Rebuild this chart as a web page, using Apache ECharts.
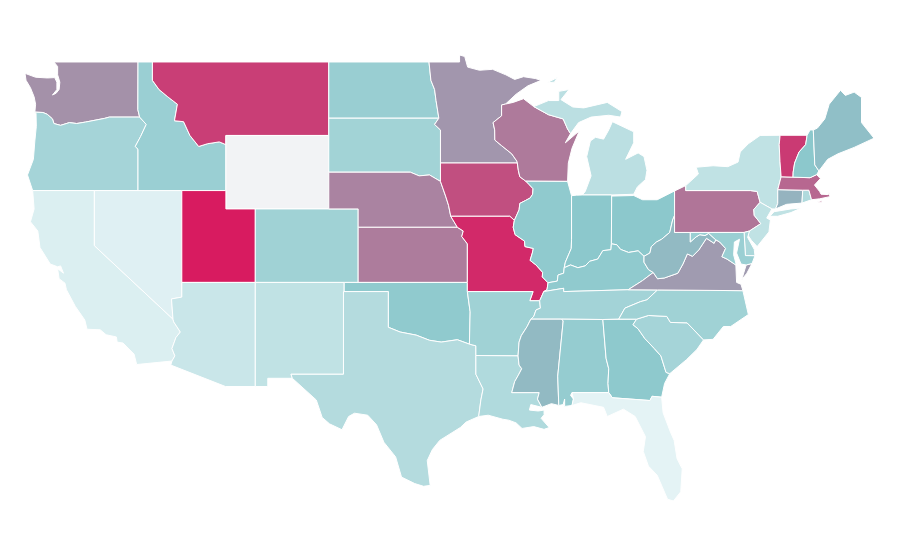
<!DOCTYPE html>
<html>
<head>
<meta charset="utf-8">
<style>html,body{margin:0;background:#fff}#box{width:900px;height:560px}</style>
<script src="https://cdn.jsdelivr.net/npm/echarts@6/dist/echarts.min.js"></script>
</head>
<body>
<div id="box"></div>
<script>
// values, Wyoming has none
var states = ["Washington","Oregon","California","Nevada","Idaho","Montana","Utah","Arizona","Colorado","New Mexico","North Dakota","South Dakota","Nebraska","Kansas","Oklahoma","Texas","Minnesota","Iowa","Missouri","Arkansas","Louisiana","Wisconsin","Illinois","Michigan","Indiana","Ohio","Kentucky","Tennessee","Mississippi","Alabama","Georgia","Florida","South Carolina","North Carolina","Virginia","West Virginia","Pennsylvania","New York","New Jersey","Delaware","Maryland","Connecticut","Rhode Island","Massachusetts","Vermont","New Hampshire","Maine"];
var values = [66,36,6,4,42,90,100,16,39,21,43,38,70,72,48,28,64.5,85,96,39,30,72.5,48,24,50,50,48,37,54,45,49,1,36,39,63,54,74,21,21,33,42,56,30,78,91,50,52.5];

// shared borders, lon/lat
var wiMn = [[-92.02,46.71],[-92.29,46.66],[-92.29,46.07],[-92.87,45.7],[-92.76,45.3],[-92.75,44.75],[-92.3,44.45],[-91.6,44],[-91.25,43.6],[-91.22,43.5]];
var iaWi = [[-91.22,43.5],[-91.15,43.1],[-91.05,42.75],[-90.64,42.51]];
var iaIl = [[-90.64,42.51],[-90.42,42.33],[-90.15,42.1],[-90.18,41.8],[-90.34,41.6],[-90.66,41.46],[-91.05,41.3],[-91.1,40.95],[-91.42,40.38]];
var moIl = [[-91.42,40.38],[-91.5,40],[-91.37,39.6],[-90.73,39.25],[-90.7,38.95],[-90.13,38.85],[-90.2,38.6],[-90.35,38.2],[-89.95,37.95],[-89.5,37.55],[-89.52,37.3],[-89.13,36.98]];
var arTn = [[-89.7,36],[-89.65,35.6],[-89.95,35.5],[-90.1,35.15],[-90.3,35]];
var arMs = [[-90.3,35],[-90.55,34.6],[-90.95,34.1],[-91.1,33.75],[-91.17,33]];
var laMs = [[-91.17,33],[-91.1,32.5],[-90.92,32.3],[-91.15,31.95],[-91.4,31.6],[-91.6,31]];
var ilKy = [[-89.13,36.98],[-88.5,37.07],[-88.45,37.4],[-88.07,37.5],[-88.03,37.8]];
var inKy = [[-88.03,37.8],[-87.6,37.95],[-87.1,37.8],[-86.6,37.9],[-86.3,38.15],[-85.75,38.27],[-85.4,38.73],[-84.85,38.78],[-84.82,39.1]];
var ohKy = [[-84.82,39.1],[-84.45,39.05],[-84.2,38.8],[-83.65,38.63],[-83,38.72],[-82.6,38.42]];
var ohWv = [[-82.6,38.42],[-82.2,38.6],[-82.1,38.95],[-81.75,39.2],[-81.4,39.35],[-80.85,39.72],[-80.65,40.4],[-80.52,40.64]];
var kyWv = [[-82.6,38.42],[-82.6,38.1],[-82.3,37.7],[-81.97,37.54]];
var kyVa = [[-81.97,37.54],[-82.7,37.1],[-83.68,36.6]];
var vaWv = [[-81.97,37.54],[-81.68,37.2],[-81.22,37.24],[-80.3,37.5],[-79.95,38],[-79.65,38.55],[-79.3,38.42],[-78.87,38.77],[-78.35,39.4],[-77.83,39.13],[-77.72,39.32]];
var mdVa = [[-77.72,39.32],[-77.45,39.2],[-77.05,38.85],[-77.3,38.4],[-76.95,38.27],[-76.35,37.95]];
var wvMd = [[-77.72,39.32],[-78.2,39.67],[-78.45,39.55],[-78.8,39.6],[-79.05,39.48],[-79.45,39.2],[-79.45,39.72]];
var waOr = [[-124.05,46.27],[-123.5,46.25],[-123.2,46.15],[-122.85,45.9],[-122.75,45.65],[-122.3,45.55],[-121.7,45.7],[-121.2,45.65],[-120.6,45.73],[-119.95,45.83],[-119.3,45.93],[-118.98,46],[-116.92,46]];
var orId = [[-116.92,46],[-116.47,45.6],[-116.85,44.95],[-117.22,44.4],[-117.03,44.25],[-117.03,42]];
var idMt = [[-116.05,49],[-116.05,48],[-115.6,47.5],[-115,47.1],[-114.35,46.7],[-114.55,45.8],[-113.93,45.75],[-113.5,45],[-112.9,44.4],[-112.3,44.55],[-111.5,44.65],[-111.05,44.5]];
var caAz = [[-114.65,35],[-114.6,34.85],[-114.15,34.3],[-114.45,34],[-114.72,33.4],[-114.52,33],[-114.72,32.72]];
var txOk = [[-100,34.56],[-99.2,34.3],[-98.1,34.13],[-97.2,33.85],[-96.4,33.75],[-95.3,33.88],[-94.48,33.64]];
var txLa = [[-94.04,32],[-93.55,31.2],[-93.7,30.6],[-93.85,29.7]];
var neIa = [[-96.45,42.5],[-96.1,41.7],[-95.9,41.2],[-95.75,40.6],[-95.3,40]];
var ksMo = [[-95.3,40],[-94.9,39.8],[-95,39.5],[-94.62,39.1],[-94.62,37]];
var sdMn = [[-96.56,45.94],[-96.85,45.6],[-96.45,45.3],[-96.45,43.5]];
var ndMn = [[-97.23,49],[-97.1,48],[-96.85,47.5],[-96.75,46.9],[-96.56,45.94]];
var alGa = [[-85.4,34.98],[-85.18,32.87],[-85,32.3],[-85.05,31.5],[-85,31]];
var gaFl = [[-85,31],[-84.75,30.72],[-82.2,30.57],[-82.05,30.8],[-81.4,30.75]];
var gaSc = [[-83.1,35],[-83.35,34.7],[-83,34.47],[-82.55,33.95],[-81.9,33.4],[-81.45,33],[-81.1,32.1],[-80.85,32.03]];
var scNc = [[-83.1,35],[-82.3,35.2],[-81.05,35.15],[-80.8,34.82],[-79.67,34.8],[-78.55,33.87]];
var tnNc = [[-84.32,35],[-83.9,35.6],[-82.85,35.95],[-82.4,36.05],[-81.68,36.59]];
var inIl = [[-88.03,37.8],[-87.95,38.1],[-87.55,38.85],[-87.53,39.35],[-87.53,41.72]];
var paNj = [[-74.7,41.36],[-75.13,40.97],[-75.1,40.65],[-74.65,40.2],[-75.42,39.8]];
var vtNy = [[-73.27,42.75],[-73.35,43.6],[-73.4,44.5],[-73.34,45.01]];
var vtNh = [[-71.5,45.01],[-71.6,44.5],[-72.05,44.1],[-72.35,43.5],[-72.45,43],[-72.46,42.73]];

function rev(line) {
	return line.slice().reverse();
}
function ring() {
	return [].concat.apply([], arguments);
}

// outlines, each state is a list of rings
var outlines = {
	"Washington": [ring([[-117.03,49],[-122.75,49],[-122.5,48.75],[-122.5,48.3],[-122.35,47.9],[-122.4,47.5],[-122.6,47.3],[-122.85,47.2],[-122.55,47.5],[-122.55,47.9],[-122.7,48.15],[-123.2,48.13],[-124,48.17],[-124.72,48.38],[-124.65,48],[-124.35,47.6],[-124.1,47.1],[-124,46.7]], waOr, [[-117.04,46.4]])],
	"Oregon": [ring(waOr, orId, [[-124.2,42],[-124.55,42.85],[-124.15,43.7],[-124.05,44.7],[-123.95,45.5],[-123.97,46.2]])],
	"California": [ring([[-124.2,42],[-120,42],[-120,39]], caAz, [[-117.12,32.53],[-117.3,33.1],[-118.05,33.7],[-118.45,33.75],[-118.5,34.03],[-119.2,34.15],[-119.6,34.42],[-120.5,34.45],[-120.65,34.95],[-121.3,35.7],[-121.9,36.6],[-122,36.96],[-122.4,37.2],[-122.5,37.75],[-122.1,37.5],[-122.3,37.9],[-122.5,37.85],[-123,38],[-123.7,38.9],[-123.85,39.8],[-124.35,40.3],[-124.1,41]])],
	"Nevada": [[[-120,42],[-114.05,42],[-114.05,36.2],[-114.75,36.1],[-114.65,35],[-120,39]]],
	"Idaho": [ring([[-117.03,49]], idMt, [[-111.05,42]], rev(orId), [[-117.04,46.4]])],
	"Montana": [ring(idMt, [[-111.05,45],[-104.05,45],[-104.05,49]])],
	"Wyoming": [[[-111.05,45],[-104.05,45],[-104.05,41],[-111.05,41]]],
	"Utah": [[[-114.05,42],[-111.05,42],[-111.05,41],[-109.05,41],[-109.05,37],[-114.05,37]]],
	"Arizona": [ring([[-114.05,37],[-109.05,37],[-109.05,31.33],[-111.07,31.33],[-114.8,32.5]], rev(caAz), [[-114.75,36.1],[-114.05,36.2]])],
	"Colorado": [[[-109.05,41],[-102.05,41],[-102.05,37],[-109.05,37]]],
	"New Mexico": [[[-109.05,37],[-103,37],[-103.05,32],[-106.62,32],[-106.53,31.78],[-108.2,31.78],[-108.2,31.33],[-109.05,31.33]]],
	"North Dakota": [ring([[-104.05,49]], ndMn, [[-104.05,45.94]])],
	"South Dakota": [ring([[-104.05,45.94]], sdMn, [[-96.45,42.5],[-97.2,42.85],[-97.9,42.8],[-98.5,43],[-104.05,43]])],
	"Nebraska": [ring([[-104.05,43],[-98.5,43],[-97.9,42.8],[-97.2,42.85]], neIa, [[-102.05,40],[-102.05,41],[-104.05,41]])],
	"Kansas": [ring([[-102.05,40]], ksMo, [[-102.05,37]])],
	"Oklahoma": [ring([[-103,37],[-94.62,37],[-94.62,36.5],[-94.43,35.4]], rev(txOk), [[-100,36.5],[-103,36.5]])],
	"Texas": [ring([[-103.05,36.5],[-100,36.5]], txOk, [[-94.04,33.55],[-94.04,33.02]], txLa, [[-94.7,29.4],[-95.1,29.1],[-96.5,28.4],[-97,27.9],[-97.35,27.3],[-97.15,25.95],[-97.6,25.9],[-98.2,26.05],[-99.1,26.4],[-99.5,27.5],[-100.3,28.3],[-100.8,29.25],[-101.4,29.77],[-102.3,29.88],[-102.7,29.7],[-103.15,28.98],[-104,29.3],[-104.5,29.65],[-104.9,30.6],[-106.53,31.78],[-106.62,32],[-103.05,32]])],
	"Minnesota": [ring([[-97.23,49],[-95.15,49],[-95.15,49.38],[-94.8,49.3],[-94.6,48.72],[-93.8,48.55],[-92.9,48.6],[-92,48.3],[-91.4,48.05],[-90.8,48.2],[-90,48.1],[-89.6,48],[-90.5,47.7],[-91.3,47.25]], wiMn, rev(sdMn), rev(ndMn))],
	"Iowa": [ring([[-96.45,43.5]], iaWi, iaIl, [[-91.73,40.6]], rev(neIa).slice(1))],
	"Missouri": [ring([[-95.75,40.6],[-91.73,40.6]], moIl, [[-89.2,36.6],[-89.42,36.5],[-89.7,36],[-90.37,36],[-90.15,36.5],[-94.62,36.5]], rev(ksMo))],
	"Arkansas": [ring([[-94.62,36.5],[-90.15,36.5],[-90.37,36]], arTn, arMs, [[-94.04,33.02],[-94.04,33.55],[-94.48,33.64],[-94.43,35.4]])],
	"Louisiana": [ring([[-94.04,33.02]], laMs, [[-89.73,31],[-89.85,30.65],[-89.55,30.2],[-90.3,30.35],[-90.4,30.05],[-89.8,30],[-89.4,30.05],[-89.4,29.8],[-89.6,29.6],[-89.05,29.1],[-89.4,29],[-90.1,29.15],[-90.9,29.05],[-91.3,29.35],[-91.8,29.5],[-92.2,29.55],[-93.2,29.77]], rev(txLa))],
	"Wisconsin": [ring(wiMn, iaWi, [[-87.8,42.5],[-87.75,43.5],[-87.5,44.3],[-87,45.25],[-87.95,44.6],[-87.6,45.1],[-87.8,45.35],[-88.1,45.9],[-89.1,46.13],[-90.1,46.57],[-90.8,47],[-91.5,46.8]])],
	"Illinois": [ring(rev(iaIl), [[-87.8,42.5]], rev(inIl), rev(ilKy), rev(moIl))],
	"Michigan": [[[-86.8,41.76],[-84.8,41.76],[-83.3,41.8],[-83.05,42.2],[-82.5,42.6],[-82.4,43.1],[-82.6,43.85],[-83,44.05],[-83.85,43.7],[-83.3,44.6],[-83.3,45.2],[-84.75,45.75],[-85,45.3],[-85.35,44.8],[-85.9,44.9],[-86.25,44.7],[-86.5,43.85],[-86.2,42.8],[-86.6,41.95]],
		[[-90.1,46.57],[-89.1,46.9],[-88.4,46.9],[-88.4,47.4],[-87.7,47.5],[-88.25,46.95],[-87.45,46.55],[-86.7,46.5],[-85.1,46.8],[-84.1,46.3],[-84.2,46],[-85,46.1],[-86.2,46],[-87.05,45.7],[-87.6,45.1],[-87.8,45.35],[-88.1,45.9],[-89.1,46.13]],
		[[-89.2,47.87],[-88.5,48.15],[-88.7,47.9]]],
	"Indiana": [ring([[-87.53,41.72],[-87.2,41.75],[-86.8,41.76],[-84.8,41.76],[-84.8,41.7]], rev(inKy), inIl)],
	"Ohio": [ring(ohKy, ohWv, [[-80.52,41.98],[-81.7,41.5],[-82.7,41.5],[-83.3,41.73],[-84.8,41.7]])],
	"Kentucky": [ring([[-89.42,36.5],[-88.07,36.68],[-88.07,36.5]], rev(kyVa), rev(kyWv), rev(ohKy), rev(inKy), rev(ilKy), [[-89.2,36.6]])],
	"Tennessee": [ring([[-90.3,35],[-88.2,35],[-85.4,34.98]], tnNc, [[-83.68,36.6],[-88.07,36.5],[-88.07,36.68],[-89.42,36.5]], arTn)],
	"Mississippi": [ring([[-90.3,35],[-88.2,35],[-88.1,34.9],[-88.47,31.9],[-88.4,30.3],[-88.9,30.4],[-89.55,30.2],[-89.85,30.65],[-89.73,31]], rev(laMs), rev(arMs))],
	"Alabama": [ring([[-88.2,35]], alGa, [[-87.5,31],[-87.6,30.85],[-87.4,30.65],[-87.5,30.3],[-88,30.25],[-88,30.65],[-88.1,30.35],[-88.4,30.3],[-88.47,31.9],[-88.1,34.9]])],
	"Georgia": [ring(alGa, gaFl.slice(1), [[-81.2,31.5]], rev(gaSc))],
	"Florida": [ring([[-87.5,31]], gaFl, [[-81.3,29.9],[-80.8,28.85],[-80.55,28.4],[-80.35,27.4],[-80,26.85],[-80.1,25.6],[-80.6,25.1],[-81,25.2],[-81.7,26.5],[-82.3,27],[-82.65,27.8],[-82.5,28.6],[-83.2,29.7],[-84,30.1],[-85.1,29.7],[-85.35,30.2],[-86.9,30.45],[-87.5,30.3],[-87.4,30.65]])],
	"South Carolina": [ring(scNc, [[-79,33.35],[-79.7,32.8]], rev(gaSc))],
	"North Carolina": [ring(tnNc, [[-75.87,36.55],[-75.5,35.25],[-76.7,34.6],[-77.2,34.6],[-77.9,33.9]], rev(scNc))],
	"Virginia": [ring([[-83.68,36.6],[-81.68,36.59],[-75.87,36.55],[-76,36.9],[-76.3,37]], rev(mdVa), rev(vaWv), [[-82.7,37.1]]),
		[[-75.95,37.15],[-75.65,37.95],[-75.25,38.03],[-75.6,37.5]]],
	"West Virginia": [ring(vaWv, wvMd, [[-80.52,39.72]], rev(ohWv), [[-82.6,38.1],[-82.3,37.7]])],
	"Pennsylvania": [ring([[-80.52,41.98],[-79.76,42.27],[-79.76,42],[-75.35,42],[-74.9,41.95]], paNj, [[-75.79,39.72],[-80.52,39.72]])],
	"New York": [[[-79.76,42.27],[-79.76,42],[-75.35,42],[-74.9,41.95],[-74.7,41.36],[-73.9,41],[-73.65,41],[-73.5,41.3],[-73.5,42.05],[-73.27,42.75],[-73.35,43.6],[-73.4,44.5],[-73.34,45.01],[-74.7,45],[-75.5,44.55],[-76.05,44.1],[-76.2,43.55],[-76.9,43.3],[-77.9,43.35],[-79.05,43.27],[-78.9,42.9]],
		[[-74.03,40.6],[-73.75,40.85],[-72.6,41],[-71.9,41.05],[-72.6,40.8],[-73.5,40.6]]],
	"New Jersey": [ring(paNj.slice(0,1), [[-73.9,41],[-74.25,40.5],[-74,40.4],[-74.1,39.75],[-74.9,38.95],[-75.3,39.3],[-75.55,39.6]], rev(paNj))],
	"Delaware": [[[-75.79,39.72],[-75.42,39.8],[-75.55,39.45],[-75.1,38.8],[-75.05,38.45],[-75.7,38.46]]],
	"Maryland": [ring([[-79.45,39.72],[-75.79,39.72],[-75.7,38.46],[-75.05,38.45],[-75.25,38.03],[-75.65,37.95],[-76,38],[-76.3,38.6],[-76.1,39.35],[-76.45,39.2],[-76.5,38.5],[-76.35,38.05]], rev(mdVa), wvMd)],
	"Connecticut": [[[-73.5,42.05],[-71.8,42.02],[-71.85,41.32],[-72.9,41.25],[-73.65,41],[-73.5,41.3]]],
	"Rhode Island": [[[-71.8,42.02],[-71.38,42.02],[-71.2,41.5],[-71.85,41.32]]],
	"Massachusetts": [[[-73.5,42.05],[-73.27,42.75],[-72.46,42.73],[-71.3,42.7],[-70.85,42.87],[-70.6,42.65],[-71,42.3],[-70.65,41.95],[-70.55,41.8],[-70.05,41.78],[-70.05,42.05],[-69.95,41.67],[-70.65,41.55],[-71.2,41.5],[-71.38,42.02],[-71.8,42.02]],
		[[-70.8,41.38],[-70.5,41.45],[-70.5,41.35]],
		[[-70.2,41.3],[-70,41.3],[-70.05,41.25]]],
	"Vermont": [ring(vtNy, vtNh)],
	"New Hampshire": [ring(vtNh, [[-71.3,42.7],[-70.85,42.87],[-70.7,43.07],[-70.98,43.4],[-71.08,45.3],[-71.3,45.3]])],
	"Maine": [[[-71.08,45.3],[-70.8,45.4],[-70.3,45.9],[-70,46.7],[-69.23,47.46],[-68.9,47.18],[-68.3,47.36],[-67.8,47.07],[-67.8,45.7],[-67.4,45.3],[-66.95,44.85],[-68.3,44.35],[-69.4,44],[-70.1,43.7],[-70.7,43.07],[-70.98,43.4]]]
};

var features = Object.keys(outlines).map(function (name) {
	return {
		type: "Feature",
		properties: { name: name },
		geometry: {
			type: "MultiPolygon",
			coordinates: outlines[name].map(function (r) {
				return [r.concat([r[0]])];
			})
		}
	};
});
echarts.registerMap("usa", { type: "FeatureCollection", features: features });

var instance = echarts.init(document.getElementById("box"));
instance.setOption({
	animation: false,
	backgroundColor: "#fff",
	visualMap: {
		show: false,
		min: 0,
		max: 100,
		inRange: { color: ["#e6f4f6", "#8cc8cc", "#d81b60"] }
	},
	series: [{
		type: "map",
		map: "usa",
		left: 25,
		top: 55,
		width: 849,
		height: 446,
		aspectScale: 0.8,
		silent: true,
		label: { show: false },
		itemStyle: { areaColor: "#f2f3f5", borderColor: "#fff", borderWidth: 1 },
		data: states.map(function (name, i) {
			return { name: name, value: values[i] };
		})
	}]
});
</script>
</body>
</html>
